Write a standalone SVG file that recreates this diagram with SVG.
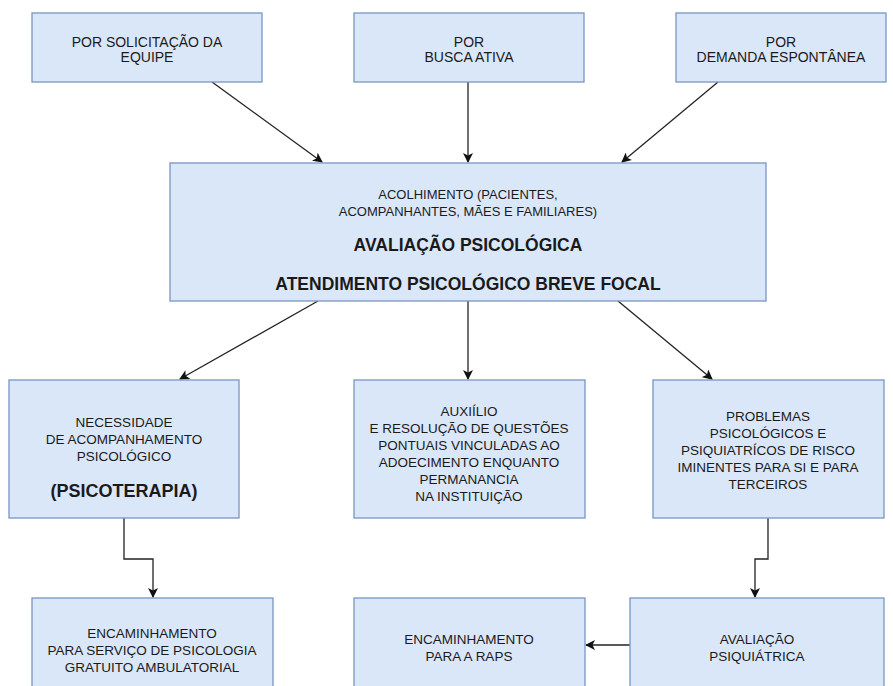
<svg xmlns="http://www.w3.org/2000/svg" width="893" height="686" viewBox="0 0 893 686">
<defs>
<style>
.box{fill:#dae7f9;stroke:#7896c4;stroke-width:1.3}
.t{font-family:"Liberation Sans",Arial,sans-serif;font-size:14px;fill:#1a1a1a;text-anchor:middle}
.tc{font-family:"Liberation Sans",Arial,sans-serif;font-size:13px;fill:#1a1a1a;text-anchor:middle}
.tn{font-family:"Liberation Sans",Arial,sans-serif;font-size:13.5px;fill:#1a1a1a;text-anchor:middle}
.b{font-family:"Liberation Sans",Arial,sans-serif;font-size:17.5px;font-weight:bold;fill:#1a1a1a;text-anchor:middle}
.c{fill:none;stroke:#222;stroke-width:1.3}
</style>
<marker id="ah" viewBox="0 0 10 10" refX="9" refY="5" markerWidth="10" markerHeight="10" markerUnits="userSpaceOnUse" orient="auto">
<path d="M0,0 L10,5 L0,10 L2.5,5 z" fill="#111"/>
</marker>
</defs>
<rect width="893" height="686" fill="#ffffff"/>
<g id="connectors">
<line class="c" x1="212" y1="82" x2="322" y2="162" marker-end="url(#ah)"/>
<line class="c" x1="468" y1="82" x2="468" y2="162" marker-end="url(#ah)"/>
<line class="c" x1="718" y1="82" x2="622" y2="162" marker-end="url(#ah)"/>
<line class="c" x1="318" y1="301" x2="180" y2="379" marker-end="url(#ah)"/>
<line class="c" x1="468" y1="301" x2="468" y2="379" marker-end="url(#ah)"/>
<line class="c" x1="618" y1="301" x2="712" y2="379" marker-end="url(#ah)"/>
<polyline class="c" points="124,518 124,559 153,559 153,597" marker-end="url(#ah)"/>
<polyline class="c" points="768,518 768,559 755,559 755,597" marker-end="url(#ah)"/>
<line class="c" x1="630" y1="645" x2="586" y2="645" marker-end="url(#ah)"/>
</g>
<g id="n1"><rect class="box" x="32" y="13" width="230" height="69"/>
<text class="t" x="147" y="47">POR SOLICITAÇÃO DA</text><text class="t" x="147" y="62">EQUIPE</text></g>
<g id="n2"><rect class="box" x="354" y="13" width="230" height="69"/>
<text class="t" x="469" y="47">POR</text><text class="t" x="469" y="62">BUSCA ATIVA</text></g>
<g id="n3"><rect class="box" x="676" y="13" width="210" height="69"/>
<text class="t" x="781" y="47">POR</text><text class="t" x="781" y="62">DEMANDA ESPONTÂNEA</text></g>
<g id="center"><rect class="box" x="170" y="163" width="596" height="138"/>
<text class="tc" x="468" y="199">ACOLHIMENTO (PACIENTES,</text>
<text class="tc" x="468" y="216">ACOMPANHANTES, MÃES E FAMILIARES)</text>
<text class="b" x="468" y="251">AVALIAÇÃO PSICOLÓGICA</text>
<text class="b" x="468" y="290">ATENDIMENTO PSICOLÓGICO BREVE FOCAL</text></g>
<g id="nA"><rect class="box" x="9" y="380" width="230" height="138"/>
<text class="tn" x="124" y="427">NECESSIDADE</text>
<text class="tn" x="124" y="444">DE ACOMPANHAMENTO</text>
<text class="tn" x="124" y="461">PSICOLÓGICO</text>
<text class="b" x="124" y="497" style="font-size:18px">(PSICOTERAPIA)</text></g>
<g id="nB"><rect class="box" x="354" y="380" width="231" height="138"/>
<text class="tn" x="469" y="416">AUXIÍLIO</text>
<text class="tn" x="469" y="433">E RESOLUÇÃO DE QUESTÕES</text>
<text class="tn" x="469" y="450">PONTUAIS VINCULADAS AO</text>
<text class="tn" x="469" y="467">ADOECIMENTO ENQUANTO</text>
<text class="tn" x="469" y="484">PERMANANCIA</text>
<text class="tn" x="469" y="501">NA INSTITUIÇÃO</text></g>
<g id="nC"><rect class="box" x="653" y="380" width="231" height="138"/>
<text class="tn" x="768" y="421">PROBLEMAS</text>
<text class="tn" x="768" y="438">PSICOLÓGICOS E</text>
<text class="tn" x="768" y="455">PSIQUIATRÍCOS DE RISCO</text>
<text class="tn" x="768" y="472">IMINENTES PARA SI E PARA</text>
<text class="tn" x="768" y="489">TERCEIROS</text></g>
<g id="nD"><rect class="box" x="32" y="598" width="241" height="100"/>
<text class="tn" x="152" y="638">ENCAMINHAMENTO</text>
<text class="tn" x="152" y="655">PARA SERVIÇO DE PSICOLOGIA</text>
<text class="tn" x="152" y="672">GRATUITO AMBULATORIAL</text></g>
<g id="nE"><rect class="box" x="354" y="598" width="231" height="100"/>
<text class="tn" x="469" y="644">ENCAMINHAMENTO</text>
<text class="tn" x="469" y="661">PARA A RAPS</text></g>
<g id="nF"><rect class="box" x="630" y="598" width="254" height="100"/>
<text class="tn" x="757" y="644">AVALIAÇÃO</text>
<text class="tn" x="757" y="661">PSIQUIÁTRICA</text></g>
</svg>
